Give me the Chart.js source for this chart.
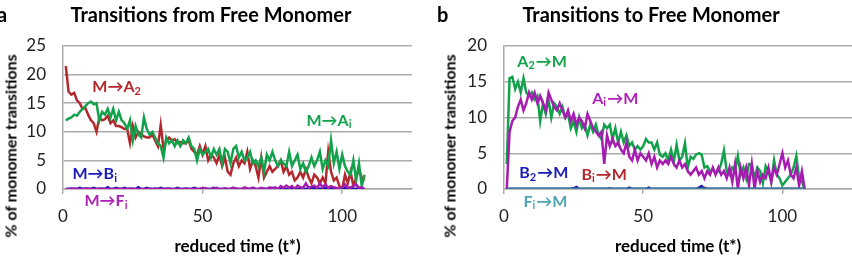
<!DOCTYPE html>
<html>
<head>
<meta charset="utf-8">
<script src="https://cdn.jsdelivr.net/npm/chart.js@4.4.1/dist/chart.umd.min.js"></script>
<style>
  body { margin: 0; background: #fff; width: 852px; height: 258px; overflow: hidden; position: relative; font-family: Lato, sans-serif; }
  .panel { position: absolute; top: 0; width: 426px; height: 258px; }
  .title { position: absolute; top: 2px; font-weight: bold; font-size: 20px; white-space: nowrap; transform: translateX(-50%); }
  .letter { position: absolute; top: 2px; font-weight: bold; font-size: 20px; }
  .ytitle { position: absolute; font-weight: bold; font-size: 16px; white-space: nowrap; transform: translate(-50%, -50%) rotate(-90deg); }
</style>
</head>
<body>
<div class="panel" style="left:0"><canvas id="chartA" width="426" height="258"></canvas></div>
<div class="panel" style="left:426px"><canvas id="chartB" width="426" height="258"></canvas></div>

<div class="letter" style="left:-3px">a</div>
<div class="title" style="left:211px">Transitions from Free Monomer</div>
<div class="ytitle" style="left:10px;top:146px">% of monomer transitions</div>

<div class="letter" style="left:437px">b</div>
<div class="title" style="left:651px">Transitions to Free Monomer</div>
<div class="ytitle" style="left:449px;top:146px">% of monomer transitions</div>

<script>
// reduced time grid (t*)
const tStar = Array.from({ length: 108 }, (_, i) => i + 1);

// panel a: transitions from free monomer (%)
const mToA2 = [21.5,17,16.5,16.8,15.5,15,14,14.2,13,12,
  11.5,10,12.5,12,12.2,12.8,11.5,12,11,11,
  10.8,10.5,10.5,8,11,9,10,9.5,9.2,9,
  9,9.5,8.5,7.5,11.2,7,8.5,9,8.5,8.7,
  8,8.2,8,8,8.5,7,6.5,6,7.5,6,
  7.5,5,6,5.5,4.5,6,4,5.5,3,2.5,
  4.5,5.5,4,5,4.5,6.5,3.5,5,4,2,
  5.5,2,3,4,3,3.5,4,5,3,4,
  2.5,3,1.5,2,3,2,3.5,2,1,2.5,
  2,1,2,1,6.5,3,1.5,2,0.5,0,
  2.5,1,3,0.5,2,3.5,2,1.5];
const mToAi = [12,12.3,12.5,13,12.8,13.5,14,14.5,15,15.3,
  14.8,15,12,13.5,13,14,12.5,14,12,13.5,
  12,11.5,10.5,12,8.5,11,9.5,9,12.5,10.5,
  9.5,10,9,8,7.5,5.5,9,8,8.5,7.5,
  8.5,7.5,8.5,8,9,7.5,7,5,7,6,
  6.5,7,5.5,7,6,7,4.5,7,6.5,4.5,
  7,7.5,5.5,6.5,5,5.5,6.5,4.5,5,4,
  5.5,3,6,5,6.5,5,4,5,4.5,4,
  6.5,4,5,6,3.5,4.5,3,4,5.5,4,
  5,6.5,3.5,5,4,8.5,4.5,6.5,3.5,6,
  4,3,2.5,5,1.5,4.5,0.5,2.5];
const mToBi = [0,0,0.1,0,0,0.2,0,0.1,0,0,
  0.2,0,0,0.1,0,0.3,0,0,0.2,0,
  0,0.2,0,0.1,0,0,0.3,0,0,0.2,
  0,0,0.1,0,0.2,0,0,0.1,0,0,
  0.2,0,0,0.1,0,0,0.2,0,0,0,
  0.1,0,0,0.2,0,0,0,0.1,0,0,
  0.2,0,0,0,0.1,0,0,0.2,0,0,
  0,0.1,0,0,0.2,0,0,0,0.1,0,
  0,0.2,0,0,0.1,0,0,0.2,0,0.3,
  0,0.1,0,0.2,0,0.3,0,0.1,0,0,
  0.2,0,0.1,0,0,0.2,0,0];
const mToFi = [0,0,0,0.1,0,0,0,0,0.1,0,
  0,0,0.1,0,0,0,0,0,0,0.1,
  0,0,0,0,0.1,0,0,0,0,0,
  0.1,0,0,0,0,0,0.1,0,0,0,
  0,0,0,0.1,0,0,0,0,0,0.2,
  0.1,0,0,0,0.2,0,0,0.1,0,0,
  0.2,0.1,0,0,0.3,0.1,0,0.2,0,0,
  0.2,0,0,0.3,0.1,
  0.3,0,0.5,0.2,0.6,0.2,0.5,0,0.6,0.3,
  0.2,1,0.2,0.4,0.6,0.2,1,0.3,0.8,0.2,
  0.5,0.3,0.2,0,0.3,0.8,0.2,0.3,0.5,0.8,
  0.2,0.3,0];

// panel b: transitions to free monomer (%)
const a2ToM = [3.5,15.5,15.7,14,15,13.5,15.5,13.5,13,13.5,
  12.5,13,9.5,12,10.5,12.5,10,12,11.5,10.5,
  11.5,10,10.5,8.5,9.5,8,10,8.5,9,7.5,
  9,8,9,7.5,7,9,8.5,9,7,8.5,
  6.5,8,6.5,7.5,6,6.5,5.5,6,5.5,6,
  7,6.5,6.5,5.5,6.5,4.8,4.5,5,4,5.5,
  3.8,6.2,4,4.5,6.4,3,4.5,4.2,4.8,5,
  4.8,3,3.2,2.5,2.8,2.2,2.5,3.5,5.4,2.5,
  2,3,2.5,4.6,2,3,1.5,3.5,3.4,1.5,
  3,2.5,0.8,3.2,2.5,1,4,2,1.5,0.5,
  1,1.5,2,3,4.6,1.5,1,0];
const aiToM = [0,8,9.5,10,11.5,12.5,11,12,13.5,12.5,
  13.5,12,13,12,11,13.5,12.5,11.5,11,12,
  11,10,11,9.5,10.5,9,10,9.5,8.5,10.5,
  9.5,8.5,8,7.5,8,3.5,7.5,6,7,6,
  6.5,5.5,5,6.5,4.5,4,5.5,4,5,4.5,
  4,5,3.5,4.5,3,4,3.5,4,3.5,4.5,
  3.5,3,4,3,3.5,2.5,2,2.5,3,2,
  2.5,1.5,2.5,2,3,2,3,2,2.5,1.5,
  3,1,3.5,0,3,1.5,3,0.5,3.5,0,
  2.5,1,2,1.5,3,1,3,2,3.5,5,
  3,4,2,1.5,3,0.5,2.5,0];
const b2ToM = [0,0,0,0,0,0,0,0,0,0,
  0,0,0,0,0,0,0,0,0,0,
  0,0,0,0,0.1,0.3,0,0,0,0,
  0,0,0,0,0,0,0,0,0,0,
  0,0,0,0,0.2,0,0,0,0,0,
  0,0.2,0,0,0,0,0,0,0,0,
  0,0,0,0,0,0,0,0,0,0.2,
  0.4,0,0,0,0,0,0,0,0,0,
  0,0,0,0,0,0,0,0,0,0,
  0,0,0,0,0,0,0,0,0,0,
  0,0,0,0,0,0,0,0];
const biToM = [0,0,0,0,0,0,0,0,0,0,
  0,0,0,0,0,0,0,0,0,0,
  0,0,0,0,0,0,0,0,0,0,
  0,0,0,0,0,0,0,0.1,0,0,
  0,0,0,0,0,0,0,0,0,0,
  0,0,0,0,0,0,0,0,0,0,
  0,0,0,0,0,0,0,0,0,0,
  0,0.2,0,0,0,0,0,0,0,0,
  0,0,0,0,0,0,0,0,0,0,
  0,0,0,0,0,0,0,0,0,0,
  0,0,0,0,0,0,0,0];
const fiToM = [0,0,0,0,0,0,0,0,0,0,
  0,0,0,0,0,0,0,0,0,0,
  0,0,0,0,0,0,0,0,0,0,
  0,0,0,0,0,0,0,0,0,0,
  0,0,0,0,0,0,0,0,0,0,
  0,0,0,0,0,0,0,0,0,0,
  0,0,0,0,0,0,0,0,0,0,
  0,0,0,0,0,0,0,0,0,0,
  0,0,0,0,0,0,0,0,0,0,
  0,0,0,0,0,0,0,0,0,0,
  0,0,0,0,0,0,0,0];

const xTicks = [0, 50, 100];
const yTicksA = [0, 5, 10, 15, 20, 25];
const yTicksB = [0, 5, 10, 15, 20];

const RED = '#B3282D', GREEN = '#13A24C', BLUE = '#1515B0', MAGENTA = '#A61CB0', TEAL = '#3D82A0';
const GRID = '#ababab';

// inline series names, [text, isSubscript] parts, placed in data coordinates
const labelsA = [
  { parts: [['M→A'], ['2', 1]], x: 10.5, y: 17.8, color: RED },
  { parts: [['M→A'], ['i', 1]], x: 87.2, y: 12, color: GREEN },
  { parts: [['M→B'], ['i', 1]], x: 3.4, y: 2.6, color: '#1A1AB5' },
  { parts: [['M→F'], ['i', 1]], x: 7.7, y: -2.1, color: '#B01FB8' }
];
const labelsB = [
  { parts: [['A'], ['2', 1], ['→M']], x: 4.8, y: 17.8, color: GREEN },
  { parts: [['A'], ['i', 1], ['→M']], x: 31.7, y: 12.6, color: '#B01FB8' },
  { parts: [['B'], ['2', 1], ['→M']], x: 5.5, y: 2.2, color: '#1A1AB5' },
  { parts: [['B'], ['i', 1], ['→M']], x: 27.8, y: 2, color: RED },
  { parts: [['F'], ['i', 1], ['→M']], x: 7, y: -1.8, color: '#4FA5B5' }
];

const seriesLabels = {
  id: 'seriesLabels',
  afterDatasetsDraw(chart, args, opts) {
    const { ctx, scales: { x, y } } = chart;
    ctx.save();
    ctx.textBaseline = 'middle';
    opts.items.forEach(l => {
      let px = x.getPixelForValue(l.x);
      const py = y.getPixelForValue(l.y);
      ctx.fillStyle = l.color;
      l.parts.forEach(([txt, sub]) => {
        ctx.font = sub ? 'bold 11px Lato, sans-serif' : 'bold 16px Lato, sans-serif';
        ctx.fillText(txt, px, sub ? py + 4 : py);
        px += ctx.measureText(txt).width + (sub ? 1 : 0);
      });
    });
    ctx.restore();
  }
};

function series(values, color, width) {
  return {
    data: tStar.map((t, i) => ({ x: t, y: values[i] })),
    borderColor: color, borderWidth: width || 2.5,
    pointRadius: 0, tension: 0, fill: false
  };
}

function makeChart(id, datasets, yMax, yTicks, yWidth, rightPad, labels) {
  return new Chart(document.getElementById(id), {
    type: 'line',
    data: { datasets },
    plugins: [seriesLabels],
    options: {
      responsive: false, animation: false,
      layout: { padding: { left: 0, right: rightPad, top: 46, bottom: 0 } },
      plugins: {
        legend: { display: false }, tooltip: { enabled: false },
        seriesLabels: { items: labels }
      },
      scales: {
        x: {
          type: 'linear', min: 0, max: 125,
          afterFit: s => { s.height = 69; },
          afterBuildTicks: s => { s.ticks = xTicks.map(v => ({ value: v })); },
          grid: { display: true, drawOnChartArea: false, drawTicks: true, tickLength: 5, color: GRID, lineWidth: 1.5 },
          border: { display: true, color: GRID, width: 1.5 },
          ticks: { padding: 12, color: '#222', font: { family: 'Lato', size: 17 } },
          title: { display: true, text: 'reduced time (t*)', color: '#000', padding: { top: 0, bottom: 1 }, font: { family: 'Lato', size: 17, weight: 'bold' } }
        },
        y: {
          min: 0, max: yMax,
          afterFit: s => { s.width = yWidth; },
          afterBuildTicks: s => { s.ticks = yTicks.map(v => ({ value: v })); },
          grid: { color: GRID, lineWidth: 1.5, drawTicks: false },
          border: { display: true, color: GRID, width: 1.5 },
          ticks: { padding: 17, color: '#222', font: { family: 'Lato', size: 17 } }
        }
      }
    }
  });
}

makeChart('chartA', [
  series(mToFi, MAGENTA),
  series(mToBi, BLUE),
  series(mToAi, GREEN),
  series(mToA2, RED)
], 25, yTicksA, 63, 14, labelsA);

makeChart('chartB', [
  series(fiToM, TEAL, 3),
  series(b2ToM, BLUE),
  series(biToM, RED),
  series(aiToM, MAGENTA),
  series(a2ToM, GREEN)
], 20, yTicksB, 78, 0, labelsB);
</script>
</body>
</html>
